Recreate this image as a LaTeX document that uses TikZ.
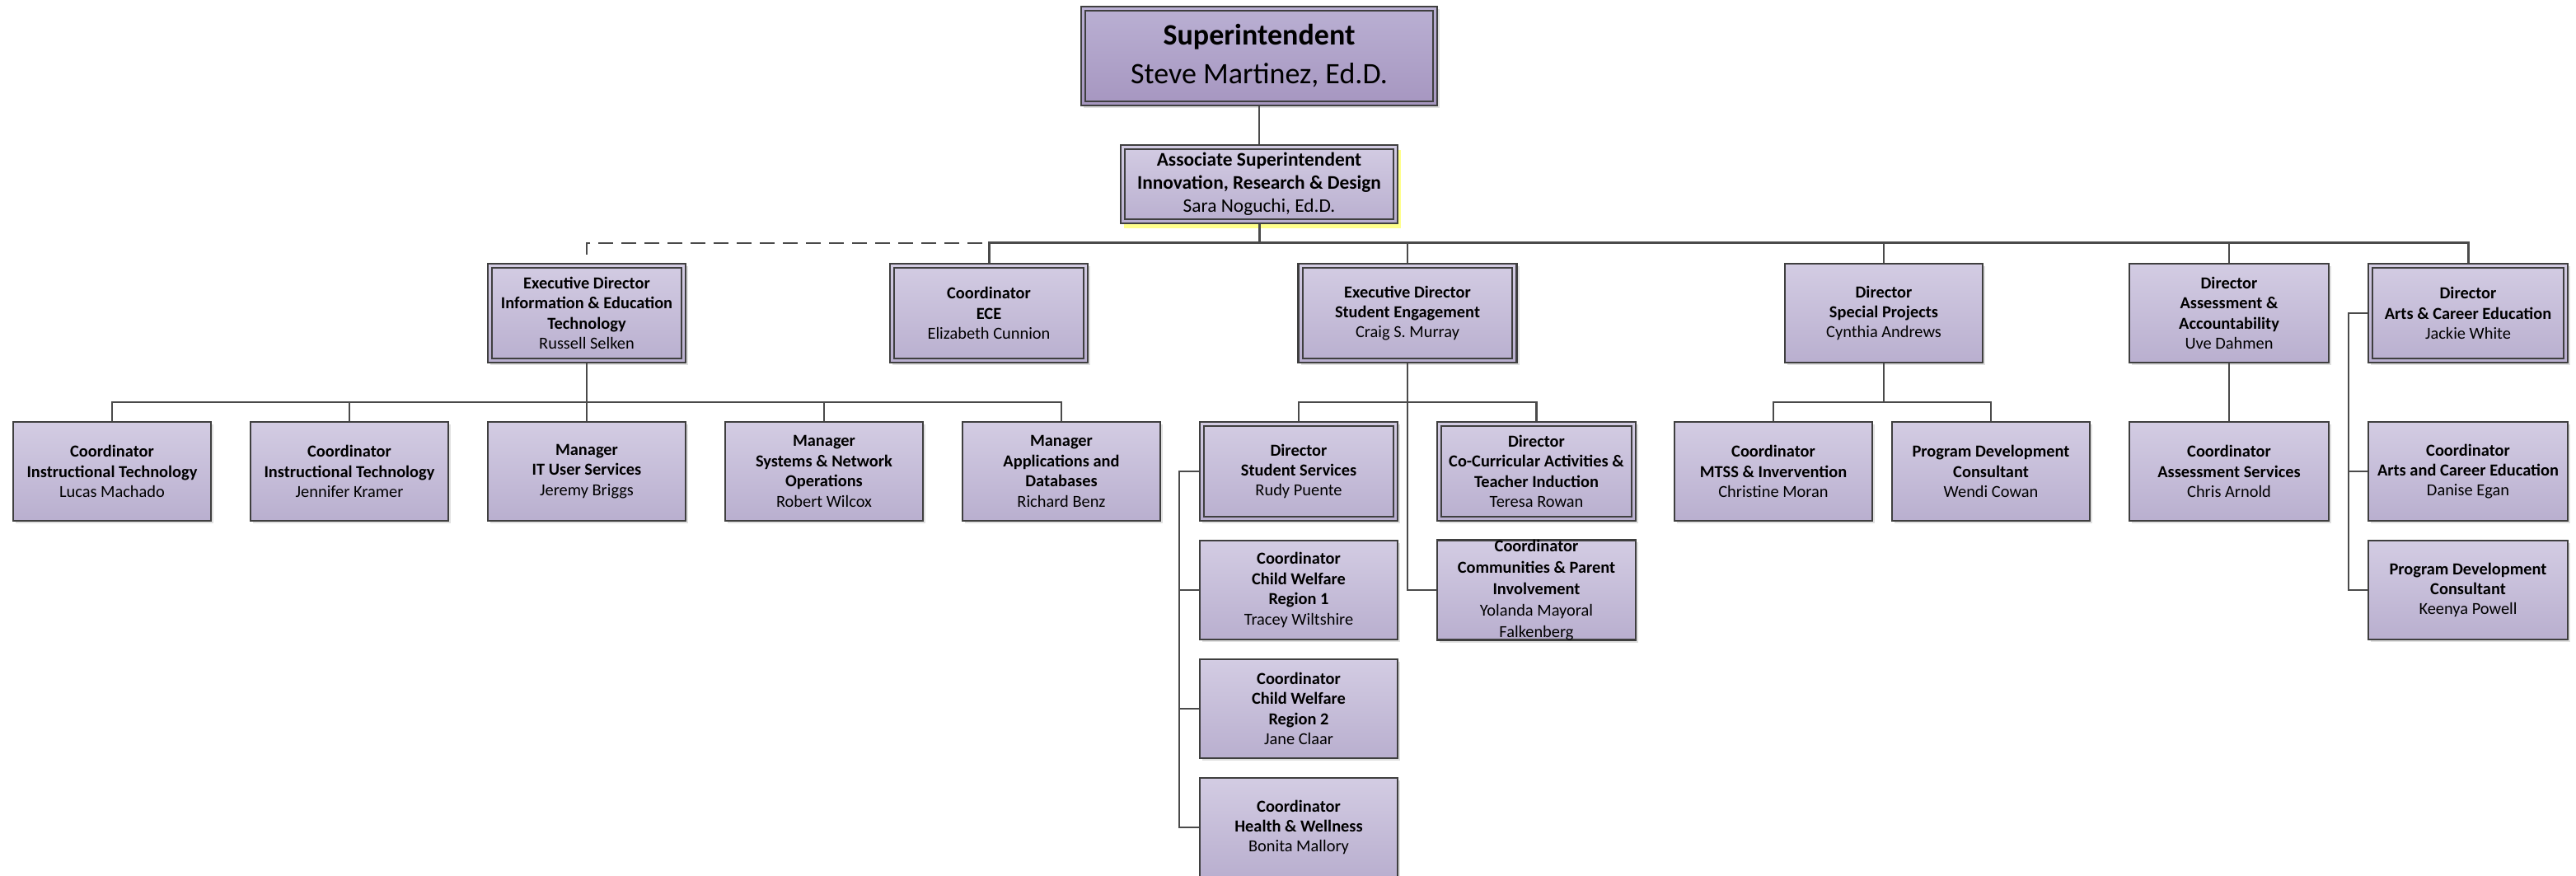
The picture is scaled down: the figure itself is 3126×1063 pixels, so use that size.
\documentclass[tikz,border=0pt]{standalone}
\usepackage{fontspec}
\setmainfont{Carlito}
\usetikzlibrary{shadows}
\definecolor{bordc}{HTML}{3F3F3F}
\definecolor{linec}{HTML}{4A4A4A}
\definecolor{boxtop}{HTML}{D3CCE3}
\definecolor{boxbot}{HTML}{B9AFCF}
\definecolor{suptop}{HTML}{BAB0D3}
\definecolor{supbot}{HTML}{A696C0}
\definecolor{glow}{HTML}{FFFF8C}
\tikzset{
  plainbox/.style={draw=bordc, line width=1.4pt, top color=boxtop, bottom color=boxbot,
    minimum width=120pt, minimum height=60pt, inner sep=0pt, align=center,
    font=\fontsize{10.2}{12.2}\selectfont},
  innerline/.style={path picture={\draw[bordc, line width=1pt]
    ([shift={(2.6pt,-2.6pt)}]path picture bounding box.north west) rectangle
    ([shift={(-2.6pt,2.6pt)}]path picture bounding box.south east);}},
  grayshadow/.style={drop shadow={shadow xshift=1.5pt, shadow yshift=-1.5pt, fill=black, opacity=0.12}},
  box/.style={plainbox, grayshadow},
  dblbox/.style={plainbox, innerline, grayshadow},
  supbox/.style={plainbox, innerline, grayshadow, top color=suptop, bottom color=supbot,
    minimum width=216pt, minimum height=60pt, font=\fontsize{18}{23.5}\selectfont},
  assocbox/.style={plainbox, innerline, drop shadow={shadow xshift=2pt, shadow yshift=-3pt, fill=glow, opacity=1},
    minimum width=168pt, minimum height=47.5pt, font=\fontsize{11.7}{14}\selectfont},
  conn/.style={draw=linec, line width=1.1pt},
  busline/.style={conn, line width=1.5pt},
}
\begin{document}
\begin{tikzpicture}[x=0.5pt, y=-0.5pt]
\fill[white] (0,0) rectangle (3126,1063);
\useasboundingbox (0,0) rectangle (3126,1063);

% top
\node[supbox] (sup) at (1528,68) {\textbf{Superintendent}\\Steve Martinez, Ed.D.};
\node[assocbox] (assoc) at (1528,223.5) {\textbf{Associate Superintendent}\\\textbf{Innovation, Research \& Design}\\Sara Noguchi, Ed.D.};

% directors
\node[dblbox] (iet) at (712,380) {\textbf{Executive Director}\\\textbf{Information \& Education}\\\textbf{Technology}\\Russell Selken};
\node[dblbox] (ece) at (1200,380) {\textbf{Coordinator}\\\textbf{ECE}\\Elizabeth Cunnion};
\node[dblbox, minimum width=132.5pt] (se) at (1708,380) {\textbf{Executive Director}\\\textbf{Student Engagement}\\Craig S. Murray};
\node[box] (sp) at (2286,380) {\textbf{Director}\\\textbf{Special Projects}\\Cynthia Andrews};
\node[box, minimum width=121pt] (aa) at (2705,380) {\textbf{Director}\\\textbf{Assessment \&}\\\textbf{Accountability}\\Uve Dahmen};
\node[dblbox, minimum width=121pt] (ace) at (2995,380) {\textbf{Director}\\\textbf{Arts \& Career Education}\\Jackie White};

% IET children
\node[box] (lucas) at (136,572) {\textbf{Coordinator}\\\textbf{Instructional Technology}\\Lucas Machado};
\node[box] (jennifer) at (424,572) {\textbf{Coordinator}\\\textbf{Instructional Technology}\\Jennifer Kramer};
\node[box] (jeremy) at (712,572) {\textbf{Manager}\\\textbf{IT User Services}\\Jeremy Briggs};
\node[box] (robert) at (1000,572) {\textbf{Manager}\\\textbf{Systems \& Network}\\\textbf{Operations}\\Robert Wilcox};
\node[box] (richard) at (1288,572) {\textbf{Manager}\\\textbf{Applications and}\\\textbf{Databases}\\Richard Benz};

% SE children
\node[dblbox] (ss) at (1576,572) {\textbf{Director}\\\textbf{Student Services}\\Rudy Puente};
\node[dblbox, minimum width=120.5pt] (cc) at (1864.5,572) {\textbf{Director}\\\textbf{Co-Curricular Activities \&}\\\textbf{Teacher Induction}\\Teresa Rowan};
\node[box, minimum width=120.5pt, font=\fontsize{10.2}{12.9}\selectfont] (cp) at (1864.5,716) {\textbf{Coordinator}\\\textbf{Communities \& Parent}\\\textbf{Involvement}\\Yolanda Mayoral\\Falkenberg};
\node[box] (r1) at (1576,716) {\textbf{Coordinator}\\\textbf{Child Welfare}\\\textbf{Region 1}\\Tracey Wiltshire};
\node[box] (r2) at (1576,860) {\textbf{Coordinator}\\\textbf{Child Welfare}\\\textbf{Region 2}\\Jane Claar};
\node[box] (hw) at (1576,1004) {\textbf{Coordinator}\\\textbf{Health \& Wellness}\\Bonita Mallory};

% SP children
\node[box] (mtss) at (2152,572) {\textbf{Coordinator}\\\textbf{MTSS \& Invervention}\\Christine Moran};
\node[box] (pdc1) at (2416,572) {\textbf{Program Development}\\\textbf{Consultant}\\Wendi Cowan};

% AA child
\node[box, minimum width=121pt] (cas) at (2705,572) {\textbf{Coordinator}\\\textbf{Assessment Services}\\Chris Arnold};

% ACE children
\node[box, minimum width=121pt] (cace) at (2995,572) {\textbf{Coordinator}\\\textbf{Arts and Career Education}\\Danise Egan};
\node[box, minimum width=121pt] (pdc2) at (2995,716) {\textbf{Program Development}\\\textbf{Consultant}\\Keenya Powell};

% connectors
\coordinate (bus) at (1528,295);
\draw[conn] (sup.south) -- (assoc.north);
\draw[busline] (ece.north) |- (ace.north |- bus) -- (ace.north);
\draw[busline] (assoc.south) -- (bus);
\draw[conn] (se.north) -- (se.north |- bus);
\draw[conn] (sp.north) -- (sp.north |- bus);
\draw[conn] (aa.north) -- (aa.north |- bus);
\draw[conn, dash pattern=on 9pt off 5pt] (bus) -| (iet.north);

\coordinate (ietb) at (712,488);
\draw[conn] (iet.south) -- (ietb);
\draw[conn] (lucas.north) |- (ietb) -| (richard.north);
\draw[conn] (jennifer.north) -- (jennifer.north |- ietb);
\draw[conn] (jeremy.north) -- (ietb);
\draw[conn] (robert.north) -- (robert.north |- ietb);

\coordinate (seb) at (1708,488);
\draw[conn] (ss.north) |- (seb) -| (cc.north);
\draw[conn] (se.south) |- (cp.west);

\coordinate (ssp) at (1431,572);
\draw[conn] (ss.west) -- (ssp) |- (hw.west);
\draw[conn] (ssp |- r1.west) -- (r1.west);
\draw[conn] (ssp |- r2.west) -- (r2.west);

\coordinate (spb) at (2286,488);
\draw[conn] (sp.south) -- (spb);
\draw[conn] (mtss.north) |- (spb) -| (pdc1.north);

\draw[conn] (aa.south) -- (cas.north);

\coordinate (acp) at (2850,380);
\draw[conn] (ace.west) -- (acp) |- (pdc2.west);
\draw[conn] (acp |- cace.west) -- (cace.west);
\end{tikzpicture}
\end{document}
